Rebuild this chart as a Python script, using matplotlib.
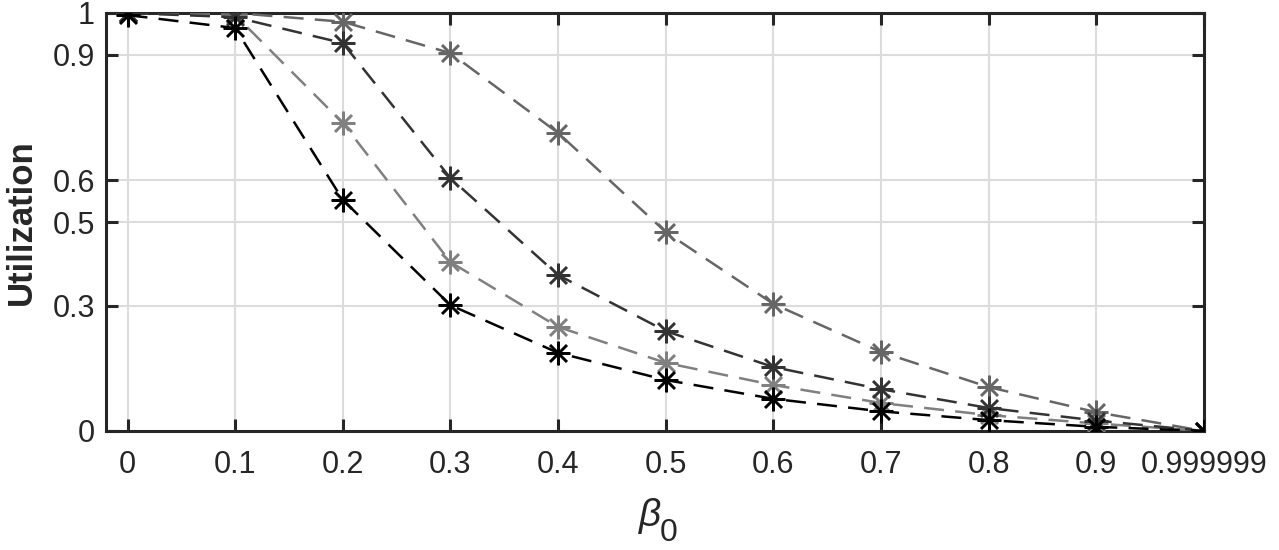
import matplotlib

matplotlib.use("Agg")
import matplotlib.pyplot as plt

plt.rcParams["font.family"] = ["Liberation Sans", "DejaVu Sans"]

beta0 = [0, 0.1, 0.2, 0.3, 0.4, 0.5, 0.6, 0.7, 0.8, 0.9, 0.999999]
x_labels = ["0", "0.1", "0.2", "0.3", "0.4", "0.5", "0.6", "0.7", "0.8", "0.9", "0.999999"]
y_ticks = [0, 0.3, 0.5, 0.6, 0.9, 1]
y_labels = ["0", "0.3", "0.5", "0.6", "0.9", "1"]

# four utilization curves
util_light = [1.0, 0.995, 0.737, 0.404, 0.249, 0.163, 0.110, 0.067, 0.038, 0.018, 0.0]
util_gray = [1.0, 1.0, 0.979, 0.904, 0.713, 0.476, 0.304, 0.189, 0.105, 0.045, 0.0]
util_dark = [1.0, 0.99, 0.928, 0.605, 0.373, 0.239, 0.153, 0.100, 0.055, 0.025, 0.0]
util_black = [0.995, 0.964, 0.553, 0.301, 0.187, 0.122, 0.077, 0.047, 0.026, 0.010, 0.0]

SERIES = [
    (util_light, "#808080"),
    (util_gray, "#666666"),
    (util_dark, "#333333"),
    (util_black, "#000000"),
]

fig = plt.figure(figsize=(12.79, 5.5), dpi=100)
ax = fig.add_axes([106 / 1279, 119 / 550, 1098 / 1279, 418 / 550])

for vals, color in SERIES:
    ax.plot(beta0, vals, color=color, linewidth=1.8, dashes=(8, 4.5),
            marker=(8, 2, 0), markersize=17, markeredgewidth=1.8,
            markeredgecolor=color, zorder=3)

ax.set_xlim(-0.02, 1.0)
ax.set_ylim(0, 1)
ax.set_xticks(beta0)
ax.set_xticklabels(x_labels)
ax.set_yticks(y_ticks)
ax.set_yticklabels(y_labels)

ax.grid(True, color="#dcdcdc", linewidth=1.5)
ax.set_axisbelow(True)

for side in ["left", "right", "top", "bottom"]:
    ax.spines[side].set_color("#262626")
    ax.spines[side].set_linewidth(2.2)

ax.tick_params(axis="both", direction="in", length=8.5, width=2.2,
               color="#262626", labelsize=22, labelcolor="#262626",
               top=True, right=True)
ax.tick_params(axis="y", pad=8)
ax.tick_params(axis="x", pad=14)

# beta_0 label: the subscript in the reference is nearly full size
ax.set_xlabel("β", fontsize=28, fontstyle="italic", color="#262626",
              va="baseline", ha="center")
ax.xaxis.set_label_coords(0.4954, -0.227)
ax.text(0.5046, -0.262, "0", transform=ax.transAxes, fontsize=23,
        color="#262626", ha="left", va="baseline")

ax.set_ylabel("Utilization", fontsize=25, fontweight="bold", color="#262626")
ax.yaxis.set_label_coords(-0.062, 0.5)

fig.savefig("out.png", dpi=100)
